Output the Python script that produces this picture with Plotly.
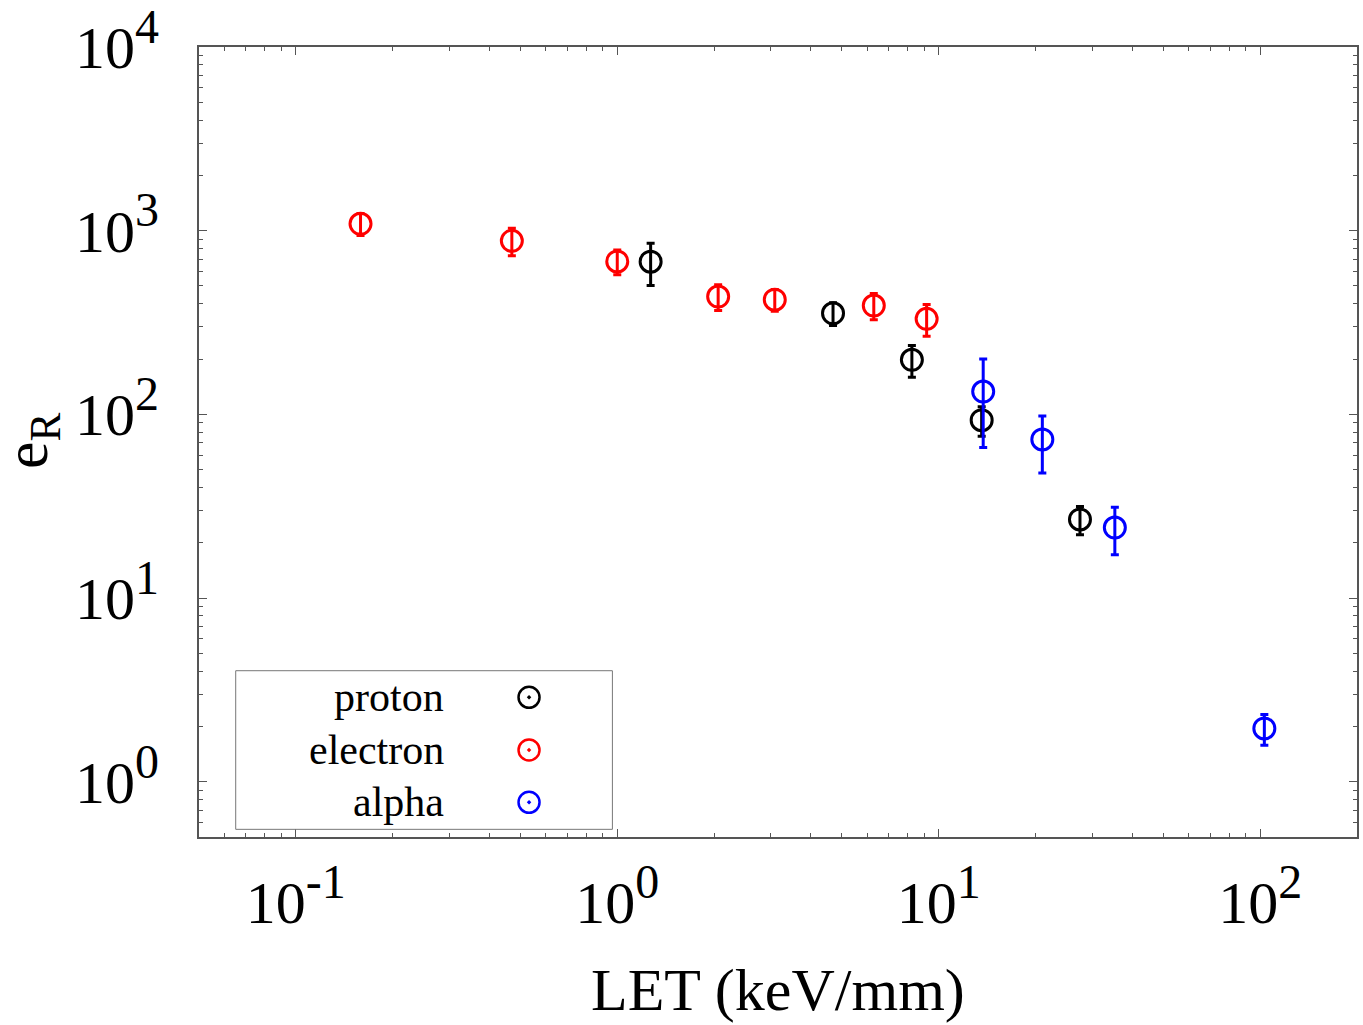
import plotly.graph_objects as go

# Relative efficiency e_R versus LET for three particle types
proton_let = [1.27, 4.69, 8.25, 13.6, 27.5]
proton_er = [678, 355, 198, 93, 26.8]
proton_err = [175, 50, 39, 17, 4.7]

electron_let = [0.159, 0.47, 1.0, 2.06, 3.09, 6.28, 9.17]
electron_er = [1090, 880, 680, 438, 421, 391, 331]
electron_err = [150, 150, 105, 70, 57, 64, 65]

alpha_let = [13.75, 21.0, 35.3, 103]
alpha_er = [133, 73, 24.2, 1.95]
alpha_err = [67, 25, 7, 0.37]

series_names = ["proton", "electron", "alpha"]
series_colors = ["#000000", "#ff0000", "#0000ff"]

x_tickvals = [0.1, 1, 10, 100]
x_exponents = ["-1", "0", "1", "2"]
y_tickvals = [1, 10, 100, 1000, 10000]
y_exponents = ["0", "1", "2", "3", "4"]

FONT = "Liberation Serif, Times New Roman, serif"
AXIS_GREY = "#555555"


def power_label(exp):
    return "10<sup><span style='font-size:48px'>%s</span></sup>" % exp


def minor_logticks(lo_exp, hi_exp):
    vals = []
    for e in range(lo_exp, hi_exp + 1):
        for d in range(2, 10):
            vals.append(d * 10.0 ** e)
    return vals


fig = go.Figure()

datasets = [
    (proton_let, proton_er, proton_err),
    (electron_let, electron_er, electron_err),
    (alpha_let, alpha_er, alpha_err),
]
for (xs, ys, errs), name, color in zip(datasets, series_names, series_colors):
    fig.add_trace(go.Scatter(
        x=xs, y=ys, name=name, mode="markers",
        marker=dict(symbol="circle-open", size=21, color=color, line=dict(width=3)),
        error_y=dict(type="data", array=errs, visible=True, color=color,
                     thickness=3, width=4),
        showlegend=False,
    ))

# Legend key symbols on an overlay axis spanning the plot area
legend_x = 0.285
legend_ys = [0.1768, 0.1101, 0.0439]
fig.add_trace(go.Scatter(
    x=[legend_x] * 3, y=legend_ys, mode="markers",
    marker=dict(symbol="circle-open-dot", size=21, color=series_colors, line=dict(width=2.5)),
    xaxis="x2", yaxis="y2", showlegend=False, hoverinfo="skip",
))

axis_common = dict(
    type="log", showline=True, linecolor=AXIS_GREY, linewidth=2, mirror="allticks",
    ticks="inside", ticklen=8, tickwidth=1, tickcolor=AXIS_GREY,
    tickmode="array", showgrid=False, zeroline=False, ticklabeloverflow="allow",
    automargin=False,
    tickfont=dict(family=FONT, size=60, color="black"),
)

fig.update_layout(
    width=1363, height=1025, autosize=False,
    margin=dict(l=199, r=6, t=47, b=188),
    paper_bgcolor="white", plot_bgcolor="white",
    showlegend=False,
    xaxis=dict(
        **axis_common,
        range=[-1.30103, 2.30103],
        tickvals=x_tickvals, ticktext=[power_label(e) for e in x_exponents],
        ticklabelstandoff=12,
        minor=dict(tickmode="array", tickvals=minor_logticks(-2, 2), ticks="inside",
                   ticklen=4, tickwidth=1, tickcolor=AXIS_GREY, showgrid=False),
    ),
    yaxis=dict(
        **axis_common,
        range=[-0.30103, 4],
        tickvals=y_tickvals, ticktext=[power_label(e) for e in y_exponents],
        ticklabelstandoff=26,
        minor=dict(tickmode="array", tickvals=minor_logticks(-1, 3), ticks="inside",
                   ticklen=4, tickwidth=1, tickcolor=AXIS_GREY, showgrid=False),
    ),
    xaxis2=dict(overlaying="x", anchor="y2", range=[0, 1], visible=False, fixedrange=True),
    yaxis2=dict(overlaying="y", anchor="x2", range=[0, 1], visible=False, fixedrange=True),
)

# Legend frame and labels
fig.add_shape(type="rect", xref="paper", yref="paper",
              x0=0.0317, x1=0.357, y0=0.0097, y1=0.2105,
              line=dict(color="#777777", width=1), fillcolor="rgba(0,0,0,0)")
for name, ly in zip(series_names, legend_ys):
    fig.add_annotation(text=name, xref="paper", yref="paper", x=0.2133, y=ly,
                       xanchor="right", yanchor="middle", showarrow=False,
                       font=dict(family=FONT, size=42, color="black"))

# Axis titles
fig.add_annotation(text="LET (keV/mm)", xref="paper", yref="paper", x=0.5, y=-0.194,
                   xanchor="center", yanchor="middle", showarrow=False,
                   font=dict(family=FONT, size=60, color="black"))
fig.add_annotation(text="e<sub>R</sub>", xref="paper", yref="paper", x=-0.146, y=0.5025,
                   xanchor="center", yanchor="middle", showarrow=False, textangle=-90,
                   font=dict(family=FONT, size=62, color="black"))

fig.write_html("out.html")
